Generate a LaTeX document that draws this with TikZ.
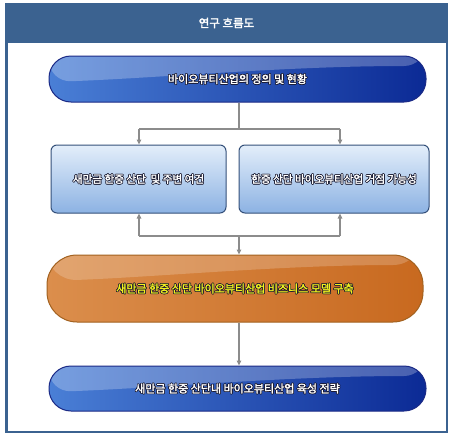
\documentclass[tikz,border=0pt]{standalone}
\usepackage{fontspec}
\setmainfont{Noto Sans CJK KR}
\newfontfamily\krb{Noto Sans CJK KR}[FakeBold=2.2]
\usetikzlibrary{arrows.meta}
\definecolor{hdr}{HTML}{3B6290}
\definecolor{conn}{HTML}{8C8C8C}
\definecolor{pillL}{HTML}{4A7FD6}
\definecolor{pillR}{HTML}{0B2A95}
\definecolor{pillD}{HTML}{1B2A86}
\definecolor{orL}{HTML}{DB8E4C}
\definecolor{orR}{HTML}{C8691F}
\definecolor{orD}{HTML}{A2611F}
\definecolor{boxT}{HTML}{E3EEFA}
\definecolor{boxB}{HTML}{8CB2E3}
\definecolor{boxD}{HTML}{34507A}
\definecolor{txtY}{HTML}{F2F21E}
\definecolor{txtD}{HTML}{1A1A30}
\newcommand\olt[3]{\leavevmode\rlap{\color{#1}%
\rlap{\kern0.7pt#3}\rlap{\kern-0.7pt#3}\rlap{\raisebox{0.7pt}{#3}}\rlap{\raisebox{-0.7pt}{#3}}%
\rlap{\kern0.5pt\raisebox{0.5pt}{#3}}\rlap{\kern-0.5pt\raisebox{0.5pt}{#3}}%
\rlap{\kern0.5pt\raisebox{-0.5pt}{#3}}\rlap{\kern-0.5pt\raisebox{-0.5pt}{#3}}}%
\textcolor{#2}{#3}}
\tikzset{
  gloss/.style={path picture={
    \fill[white,opacity=#1] (path picture bounding box.north west) -- (path picture bounding box.north east)
      -- ([yshift=-10pt]path picture bounding box.north east)
      .. controls ([yshift=-10pt,xshift=-140pt]path picture bounding box.north east)
      and ([yshift=-22pt,xshift=110pt]path picture bounding box.north west)
      .. ([yshift=-26pt]path picture bounding box.north west) -- cycle;}},
  bluepill/.style={draw=pillD, line width=1pt, left color=pillL, right color=pillR,
    minimum width=377pt, minimum height=46pt, rounded corners=22pt, inner sep=0pt,
    font=\krb\fontsize{11}{13}\selectfont, gloss=0.25},
  orpill/.style={draw=orD, line width=1pt, left color=orL, right color=orR,
    minimum width=376pt, minimum height=67pt, rounded corners=30pt, inner sep=0pt,
    font=\krb\fontsize{11}{13}\selectfont, gloss=0.2},
  lbox/.style={draw=boxD, line width=1pt, top color=boxT, bottom color=boxB,
    minimum height=68pt, rounded corners=6pt, inner sep=0pt,
    font=\krb\fontsize{10.6}{13}\selectfont},
  conline/.style={draw=conn, line width=1.3pt},
  conarrow/.style={conline, -{Triangle[length=5pt,width=4.5pt]}}
}
\begin{document}
\begin{tikzpicture}[x=1pt,y=-1pt]
\useasboundingbox (0,0) rectangle (458,439);
\fill[white] (0,0) rectangle (458,439);
% frame and header
\fill[hdr] (5,4) rectangle (448,43);
\draw[hdr, line width=2.5pt] (6.25,4) rectangle (446.75,431.75);
\node[text=white, font=\krb\fontsize{11.5}{13}\selectfont] (title) at (226.5,23) {연구 흐름도};
% nodes
\node[bluepill] (top) at (237.5,79) {\olt{txtD}{white}{바이오뷰티산업의 정의 및 현황}};
\node[lbox, minimum width=175pt] (left) at (138.5,179) {\olt{txtD}{white}{새만금 한중 산단~ 및 주변 여건}};
\node[lbox, minimum width=190pt] (right) at (334,179) {\olt{txtD}{white}{한중 산단 바이오뷰티산업 거점 가능성}};
\node[orpill] (mid) at (235,288.5) {\olt{txtD}{txtY}{새만금 한중 산단 바이오뷰티산업 비즈니스 모델 구축}};
\node[bluepill, minimum height=45pt] (bot) at (237.5,388.5) {\olt{txtD}{white}{새만금 한중 산단내 바이오뷰티산업 육성 전략}};
% junction coordinates
\coordinate (ja) at (239,129);
\coordinate (jal) at (139,129);
\coordinate (jar) at (340,129);
\coordinate (jb) at (239,236);
\coordinate (jbl) at (139,236);
\coordinate (jbr) at (340,236);
% connectors
\draw[conline] (top.south -| ja) -- (ja);
\draw[conline] (jal) -- (jar);
\draw[conarrow] (jal) -- (left.north -| jal);
\draw[conarrow] (jar) -- (right.north -| jar);
\draw[conline] (jbl) -- (jbr);
\draw[conarrow] (jbl) -- (left.south -| jbl);
\draw[conarrow] (jbr) -- (right.south -| jbr);
\draw[conarrow] (jb) -- (mid.north -| jb);
\draw[conarrow] (mid.south -| jb) -- (bot.north -| jb);
\end{tikzpicture}
\end{document}
